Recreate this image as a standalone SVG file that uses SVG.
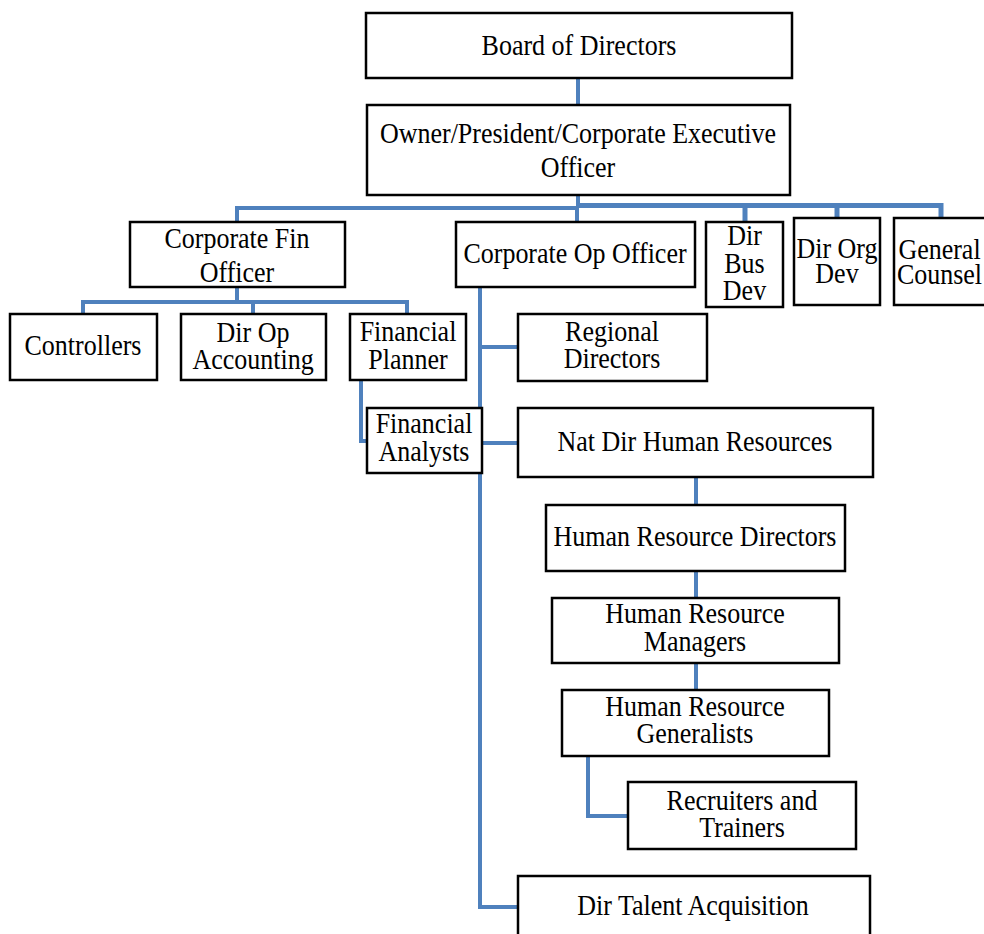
<svg xmlns="http://www.w3.org/2000/svg" width="984" height="934" viewBox="0 0 984 934">
<style>
.box{fill:#fff;stroke:#000;stroke-width:2.5}
.lbl{font-family:"Liberation Serif","Times New Roman",serif;font-size:26px;fill:#000;text-anchor:middle}
.con{fill:none;stroke:#4F81BD;stroke-width:4}
</style>
<rect width="984" height="934" fill="#fff"/>
<g id="connectors">
<path class="con" d="M578 78V105"/>
<path class="con" d="M578 195V208"/>
<path class="con" d="M237 222V208H578"/>
<path class="con" style="stroke-width:5" d="M578 205.5H941V218M745 205.5V222M837 205.5V218"/>
<path class="con" d="M577 208V222"/>
<path class="con" d="M237 287V302"/>
<path class="con" d="M83 314V302H407V314M253 302V314"/>
<path class="con" d="M361 380V441H367"/>
<path class="con" d="M480 287V907H518M480 347H518M480 443H518"/>
<path class="con" d="M696 477V505M696 571V598M696 663V690"/>
<path class="con" d="M588 756V816H628"/>
</g>
<g id="board"><rect class="box" x="366" y="13" width="426" height="65"/><text class="lbl" transform="translate(579,55) scale(1,1.15)">Board of Directors</text></g>
<g id="owner"><rect class="box" x="367" y="105" width="423" height="90"/><text class="lbl" transform="translate(578,143) scale(1,1.15)"><tspan x="0" y="0">Owner/President/Corporate Executive</tspan><tspan x="0" y="29.6">Officer</tspan></text></g>
<g id="cfo"><rect class="box" x="130" y="222" width="215" height="65"/><text class="lbl" transform="translate(237,248) scale(1,1.15)"><tspan x="0" y="0">Corporate Fin</tspan><tspan x="0" y="30">Officer</tspan></text></g>
<g id="coo"><rect class="box" x="456" y="222" width="239" height="65"/><text class="lbl" transform="translate(575,263) scale(1,1.15)">Corporate Op Officer</text></g>
<g id="dirbusdev"><rect class="box" x="706" y="222" width="77" height="85"/><text class="lbl" transform="translate(744.5,245) scale(1,1.15)"><tspan x="0" y="0">Dir</tspan><tspan x="0" y="24.3">Bus</tspan><tspan x="0" y="47.8">Dev</tspan></text></g>
<g id="dirorgdev"><rect class="box" x="794" y="218" width="86" height="87"/><text class="lbl" transform="translate(837,258) scale(1,1.15)"><tspan x="0" y="0">Dir Org</tspan><tspan x="0" y="21.7">Dev</tspan></text></g>
<g id="generalcounsel"><rect class="box" x="894" y="218" width="96" height="87"/><text class="lbl" transform="translate(939.5,259) scale(1,1.15)"><tspan x="0" y="0">General</tspan><tspan x="0" y="21.7">Counsel</tspan></text></g>
<g id="controllers"><rect class="box" x="10" y="314" width="147" height="66"/><text class="lbl" transform="translate(83,355) scale(1,1.15)">Controllers</text></g>
<g id="diropacc"><rect class="box" x="181" y="314" width="145" height="66"/><text class="lbl" transform="translate(253,342) scale(1,1.15)"><tspan x="0" y="0">Dir Op</tspan><tspan x="0" y="23.5">Accounting</tspan></text></g>
<g id="finplanner"><rect class="box" x="350" y="314" width="116" height="66"/><text class="lbl" transform="translate(408,341) scale(1,1.15)"><tspan x="0" y="0">Financial</tspan><tspan x="0" y="24.3">Planner</tspan></text></g>
<g id="finanalysts"><rect class="box" x="367" y="408" width="115" height="65"/><text class="lbl" transform="translate(424,433) scale(1,1.15)"><tspan x="0" y="0">Financial</tspan><tspan x="0" y="24.3">Analysts</tspan></text></g>
<g id="regional"><rect class="box" x="518" y="314" width="189" height="67"/><text class="lbl" transform="translate(612,341) scale(1,1.15)"><tspan x="0" y="0">Regional</tspan><tspan x="0" y="23.5">Directors</tspan></text></g>
<g id="natdirhr"><rect class="box" x="518" y="408" width="355" height="69"/><text class="lbl" transform="translate(695,451) scale(1,1.15)">Nat Dir Human Resources</text></g>
<g id="hrdirectors"><rect class="box" x="546" y="505" width="299" height="66"/><text class="lbl" transform="translate(695,546) scale(1,1.15)">Human Resource Directors</text></g>
<g id="hrmanagers"><rect class="box" x="552" y="598" width="287" height="65"/><text class="lbl" transform="translate(695,623) scale(1,1.15)"><tspan x="0" y="0">Human Resource</tspan><tspan x="0" y="24.3">Managers</tspan></text></g>
<g id="hrgeneralists"><rect class="box" x="562" y="690" width="267" height="66"/><text class="lbl" transform="translate(695,716) scale(1,1.15)"><tspan x="0" y="0">Human Resource</tspan><tspan x="0" y="23.5">Generalists</tspan></text></g>
<g id="recruiters"><rect class="box" x="628" y="782" width="228" height="67"/><text class="lbl" transform="translate(742,810) scale(1,1.15)"><tspan x="0" y="0">Recruiters and</tspan><tspan x="0" y="23.5">Trainers</tspan></text></g>
<g id="talentacq"><rect class="box" x="518" y="876" width="352" height="64"/><text class="lbl" transform="translate(693,915) scale(1,1.15)">Dir Talent Acquisition</text></g>
</svg>
